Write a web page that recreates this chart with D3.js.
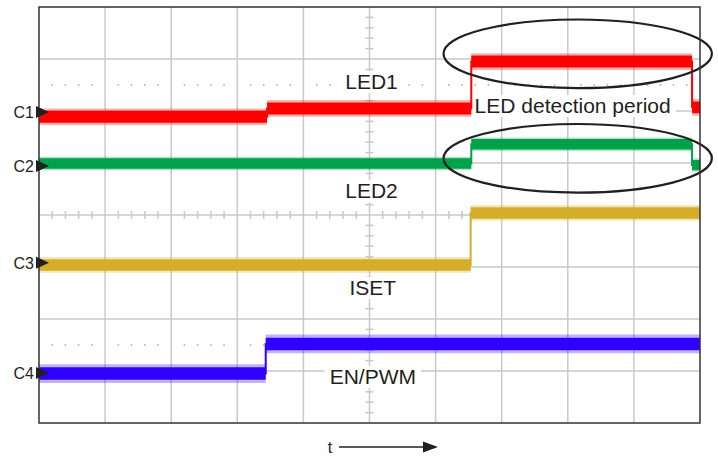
<!DOCTYPE html>
<html>
<head>
<meta charset="utf-8">
<script src="https://cdn.jsdelivr.net/npm/d3@7"></script>
<style>
  body { margin: 0; background: #fff; }
  text { font-family: "Liberation Sans", Arial, sans-serif; fill: #231f20; }
</style>
</head>
<body>
<div id="chart"></div>
<script>
// screen is 10 x 8 divisions, values below are in divisions
const channels = ["C1", "C2", "C3", "C4"];
const colors = ["#ff0000", "#00a14b", "#d4ae28", "#2f00ff"];
const markerLevel = [5.98, 4.94, 3.08, 0.96];

const c1Time = [0, 3.45, 6.54, 9.88, 10];
const c1Level = [5.89, 6.05, 6.95, 6.07, 6.07];
const c2Time = [0, 6.54, 9.88, 10];
const c2Level = [4.99, 5.36, 4.96, 4.96];
const c3Time = [0, 6.53, 10];
const c3Level = [3.04, 4.04, 4.04];
const c4Time = [0, 3.43, 10];
const c4Level = [0.95, 1.52, 1.52];
const noiseHalf = [0.115, 0.1, 0.11, 0.12];
const spikeHalf = [0.16, 0.13, 0.15, 0.18];

const labels = ["LED1", "LED detection period", "LED2", "ISET", "EN/PWM"];
const labelT = [5.03, 6.59, 5.03, 5.05, 5.05];
const labelV = [6.42, 5.96, 4.32, 2.46, 0.75];
const labelAnchor = ["middle", "start", "middle", "middle", "middle"];

const ellipseT = [8.15, 8.15];
const ellipseV = [7.1, 5.09];
const ellipseRT = [2.03, 2.03];
const ellipseRV = [0.66, 0.66];

const W = 718, H = 458;
const margin = { left: 39, right: 18, top: 7, bottom: 35 };

const svg = d3.select("#chart").append("svg")
  .attr("width", W).attr("height", H);

const x = d3.scaleLinear().domain([0, 10]).range([margin.left, W - margin.right]);
const y = d3.scaleLinear().domain([0, 8]).range([H - margin.bottom, margin.top]);

// grid
const grid = svg.append("g").attr("stroke", "#c9c9c9").attr("stroke-width", 1.5);
grid.selectAll(".gx").data(d3.range(1, 10)).join("line")
  .attr("x1", d => x(d)).attr("x2", d => x(d))
  .attr("y1", y(8)).attr("y2", y(0));
grid.selectAll(".gy").data(d3.range(1, 8)).join("line")
  .attr("x1", x(0)).attr("x2", x(10))
  .attr("y1", d => y(d)).attr("y2", d => y(d));

// minor ticks on centre lines
const minorX = d3.range(0, 50).map(i => i * 0.2).filter(d => Math.abs(d - Math.round(d)) > 0.01);
const minorY = d3.range(0, 40).map(i => i * 0.2).filter(d => Math.abs(d - Math.round(d)) > 0.01);
grid.selectAll(".tx").data(minorX).join("line")
  .attr("x1", d => x(d)).attr("x2", d => x(d))
  .attr("y1", y(4) - 4).attr("y2", y(4) + 4);
grid.selectAll(".ty").data(minorY).join("line")
  .attr("x1", x(5) - 4).attr("x2", x(5) + 4)
  .attr("y1", d => y(d)).attr("y2", d => y(d));

// dotted marker rows
[6.5, 1.5].forEach(v => {
  svg.append("g").selectAll("circle").data(minorX).join("circle")
    .attr("cx", d => x(d)).attr("cy", y(v)).attr("r", 0.9).attr("fill", "#b5b5b5");
});

// labels with white boxes
labels.forEach((s, i) => {
  const g = svg.append("g");
  const t = g.append("text")
    .attr("x", x(labelT[i])).attr("y", y(labelV[i]))
    .attr("text-anchor", labelAnchor[i])
    .attr("font-size", 21).text(s);
  const b = t.node().getBBox();
  g.insert("rect", "text")
    .attr("x", b.x - 5).attr("y", b.y + 1)
    .attr("width", b.width + 10).attr("height", b.height - 1)
    .attr("fill", "#fff");
});

// traces: faint outer band for spikes, solid core band, thin edges
const series = [
  [c1Time, c1Level], [c2Time, c2Level], [c3Time, c3Level], [c4Time, c4Level]
];
series.forEach(([ts, vs], i) => {
  const pts = ts.map((t, k) => ({ t: t, v: vs[k] }));
  const band = h => d3.area().curve(d3.curveStepAfter)
    .x(d => x(d.t))
    .y0(d => y(d.v - h))
    .y1(d => y(d.v + h));
  svg.append("path").datum(pts)
    .attr("fill", colors[i]).attr("opacity", 0.3)
    .attr("d", band(spikeHalf[i]));
  svg.append("path").datum(pts)
    .attr("fill", colors[i])
    .attr("d", band(noiseHalf[i]));
  svg.append("path").datum(pts)
    .attr("fill", "none").attr("stroke", colors[i]).attr("stroke-width", 2)
    .attr("d", d3.line().curve(d3.curveStepAfter)
      .x(d => x(d.t)).y(d => y(d.v)));
});

// ellipses
ellipseT.forEach((t, i) => {
  svg.append("ellipse")
    .attr("cx", x(t)).attr("cy", y(ellipseV[i]))
    .attr("rx", x(ellipseRT[i]) - x(0)).attr("ry", y(0) - y(ellipseRV[i]))
    .attr("fill", "none").attr("stroke", "#231f20").attr("stroke-width", 2.2);
});

// frame
svg.append("rect")
  .attr("x", x(0)).attr("y", y(8))
  .attr("width", x(10) - x(0)).attr("height", y(0) - y(8))
  .attr("fill", "none").attr("stroke", "#333").attr("stroke-width", 1.5);

// channel markers
channels.forEach((c, i) => {
  const yy = y(markerLevel[i]);
  svg.append("path")
    .attr("d", `M${x(0) - 3},${yy - 6}L${x(0) + 10},${yy}L${x(0) - 3},${yy + 6}Z`)
    .attr("fill", "#231f20");
  svg.append("text")
    .attr("x", x(0) - 5).attr("y", yy + 6)
    .attr("text-anchor", "end").attr("font-size", 16).text(c);
});

// time axis arrow
const ay = 447;
svg.append("text").attr("x", 330).attr("y", 453)
  .attr("text-anchor", "middle").attr("font-size", 16).text("t");
svg.append("line").attr("x1", 339).attr("x2", 426).attr("y1", ay).attr("y2", ay)
  .attr("stroke", "#231f20").attr("stroke-width", 1.5);
svg.append("path").attr("d", `M423,${ay - 5.5}L438,${ay}L423,${ay + 5.5}Z`)
  .attr("fill", "#231f20");
</script>
</body>
</html>
